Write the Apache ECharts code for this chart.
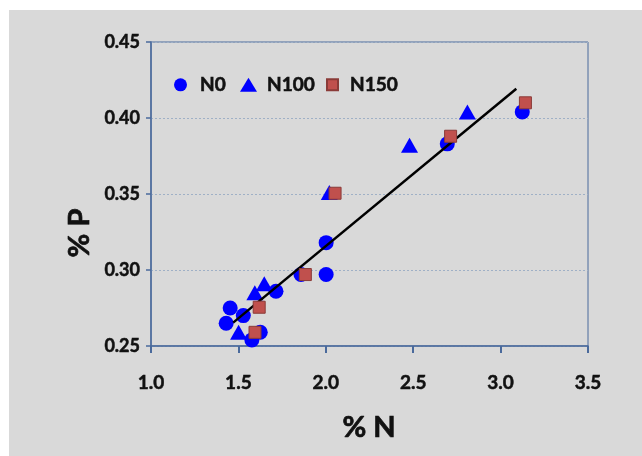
<!DOCTYPE html>
<html>
<head>
<meta charset="utf-8">
<script src="https://cdn.jsdelivr.net/npm/echarts@6/dist/echarts.min.js"></script>
<style>
html,body{margin:0;padding:0;background:#ffffff;}
#bg{position:absolute;left:9px;top:10px;width:633px;height:446px;background:#d9d9d9;}
#chart{position:absolute;left:0;top:0;width:642px;height:456px;}
</style>
</head>
<body>
<div id="bg"></div>
<div id="chart"></div>
<script>
// Data
const seriesNames = ['N0', 'N100', 'N150'];
const n0 = [
  [1.43, 0.265], [1.453, 0.275], [1.528, 0.270], [1.577, 0.254], [1.625, 0.259],
  [1.715, 0.286], [1.858, 0.297], [2.002, 0.297], [2.002, 0.318],
  [2.695, 0.383], [3.124, 0.404]
];
const n100 = [
  [1.501, 0.259], [1.594, 0.285], [1.648, 0.291], [2.02, 0.351],
  [2.479, 0.382], [2.81, 0.404]
];
const n150 = [
  [1.595, 0.259], [1.619, 0.2755], [1.883, 0.297], [2.053, 0.3505],
  [2.714, 0.388], [3.142, 0.410]
];
const trend = [[1.47, 0.2654], [3.09, 0.4193]];
const xTicks = { min: 1.0, max: 3.5, interval: 0.5 };
const yTicks = { min: 0.25, max: 0.45, interval: 0.05 };

const FONT = 'Lato';
const INK = '#111';
const axisColor = '#4a6a9c';
const chart = echarts.init(document.getElementById('chart'), null, { renderer: 'canvas' });

function legendAt(name, left, icon, w, h, padLeft) {
  return {
    data: [{ name: name, icon: icon }],
    left: left, top: 75, padding: 0,
    itemWidth: w, itemHeight: h,
    textStyle: { fontFamily: FONT, fontWeight: 'bold', fontSize: 19, color: INK, textBorderColor: INK, textBorderWidth: 0.6, padding: [0, 0, 0, padLeft] },
    selectedMode: false
  };
}

chart.setOption({
  backgroundColor: 'transparent',
  animation: false,
  grid: { left: 151, top: 42, right: 54, bottom: 110, show: true, borderColor: axisColor, borderWidth: 1, backgroundColor: 'transparent' },
  legend: [
    legendAt(seriesNames[0], 174, 'circle', 13, 13, 8),
    legendAt(seriesNames[1], 240, 'triangle', 17, 14, 5),
    legendAt(seriesNames[2], 326, 'rect', 11, 11, 7)
  ],
  xAxis: {
    type: 'value', min: xTicks.min, max: xTicks.max, interval: xTicks.interval,
    axisLine: { show: true, lineStyle: { color: axisColor, width: 1.5 } },
    axisTick: { show: true, length: 7, lineStyle: { color: axisColor, width: 2 } },
    axisLabel: { margin: 27, fontFamily: FONT, fontWeight: 'bold', fontSize: 19, color: INK, textBorderColor: INK, textBorderWidth: 0.5, formatter: v => v.toFixed(1) },
    splitLine: { show: false }
  },
  yAxis: {
    type: 'value', min: yTicks.min, max: yTicks.max, interval: yTicks.interval,
    axisLine: { show: true, lineStyle: { color: axisColor, width: 1.5 } },
    axisTick: { show: true, length: 5, lineStyle: { color: axisColor, width: 1.5 } },
    axisLabel: { margin: 11, fontFamily: FONT, fontWeight: 'bold', fontSize: 18, color: INK, textBorderColor: INK, textBorderWidth: 0.5, formatter: v => v.toFixed(2) },
    splitLine: { show: true, lineStyle: { color: '#9fb0c6', type: [2, 2], width: 1 } }
  },
  graphic: [
    { type: 'text', x: 369, y: 428, style: { text: '% N', font: 'bold 29px Lato', fill: INK, stroke: INK, lineWidth: 0.7, textAlign: 'center', textVerticalAlign: 'middle' } },
    { type: 'text', x: 80, y: 233, rotation: Math.PI / 2, style: { text: '% P', font: 'bold 29px Lato', fill: INK, stroke: INK, lineWidth: 0.7, textAlign: 'center', textVerticalAlign: 'middle' } }
  ],
  series: [
    { name: seriesNames[0], type: 'scatter', data: n0, symbol: 'circle', symbolSize: 15, itemStyle: { color: '#0000ff', opacity: 1 }, z: 2 },
    { name: seriesNames[1], type: 'scatter', data: n100, symbol: 'triangle', symbolSize: [17, 15], itemStyle: { color: '#0000ff', opacity: 1 }, z: 3 },
    { name: 'trend', type: 'line', data: trend, showSymbol: false, symbol: 'none', lineStyle: { color: '#000', width: 2.5 }, z: 4, silent: true },
    { name: seriesNames[2], type: 'scatter', data: n150, symbol: 'rect', symbolSize: 12, itemStyle: { color: '#c0504d', borderColor: '#8a3b38', borderWidth: 1, opacity: 1 }, z: 5 }
  ]
});
</script>
</body>
</html>
